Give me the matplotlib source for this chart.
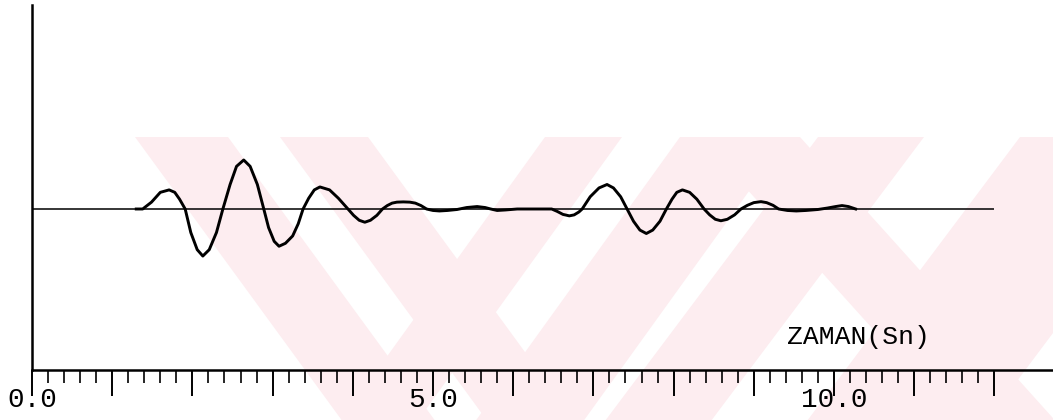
import matplotlib.pyplot as plt
import numpy as np
from matplotlib.patches import Polygon

plt.rcParams['font.family'] = ['Liberation Mono', 'DejaVu Sans Mono']

# record: time (s) and relative amplitude
time = [
    1.30, 1.38, 1.49, 1.60, 1.71, 1.78, 1.84, 1.91, 1.98, 2.06,
    2.13, 2.21, 2.30, 2.38, 2.47, 2.55, 2.64, 2.72, 2.81, 2.89,
    2.95, 3.02, 3.08, 3.16, 3.25, 3.32, 3.38, 3.45, 3.52, 3.59,
    3.71, 3.82, 3.94, 4.01, 4.08, 4.15, 4.22, 4.30, 4.37, 4.43,
    4.49, 4.55, 4.63, 4.71, 4.78, 4.85, 4.92, 5.00, 5.08, 5.18,
    5.30, 5.42, 5.55, 5.65, 5.72, 5.80, 5.90, 6.05, 6.48, 6.55,
    6.62, 6.70, 6.76, 6.82, 6.86, 6.96, 7.07, 7.17, 7.25, 7.34,
    7.42, 7.50, 7.58, 7.66, 7.74, 7.83, 7.91, 7.98, 8.04, 8.11,
    8.20, 8.29, 8.38, 8.45, 8.52, 8.59, 8.67, 8.76, 8.84, 8.92,
    9.00, 9.09, 9.16, 9.24, 9.31, 9.42, 9.53, 9.65, 9.80, 9.92,
    10.02, 10.10, 10.18, 10.27,
]
amplitude = [
    0.00, 0.00, 0.14, 0.34, 0.39, 0.34, 0.20, 0.00, -0.48, -0.83,
    -0.96, -0.83, -0.48, 0.00, 0.50, 0.87, 1.00, 0.87, 0.50, 0.00,
    -0.38, -0.66, -0.76, -0.70, -0.55, -0.30, 0.00, 0.22, 0.39, 0.45,
    0.39, 0.22, 0.00, -0.13, -0.23, -0.27, -0.23, -0.13, 0.00, 0.07,
    0.12, 0.14, 0.145, 0.14, 0.12, 0.07, 0.00, -0.03, -0.04, -0.03,
    -0.01, 0.03, 0.05, 0.03, 0.00, -0.03, -0.02, 0.00, 0.00, -0.05,
    -0.11, -0.14, -0.12, -0.06, 0.00, 0.25, 0.43, 0.50, 0.43, 0.25,
    0.00, -0.25, -0.43, -0.50, -0.43, -0.25, 0.00, 0.20, 0.34, 0.39,
    0.34, 0.20, 0.00, -0.12, -0.21, -0.24, -0.21, -0.12, 0.00, 0.075,
    0.13, 0.15, 0.13, 0.075, 0.00, -0.03, -0.04, -0.03, -0.01, 0.02,
    0.05, 0.07, 0.05, 0.00,
]

major_ticks = np.arange(0, 13, 1.0)
minor_ticks = np.arange(0, 12.01, 0.2)
tick_labels = {0.0: '0.0', 5.0: '5.0', 10.0: '10.0'}
xlabel = 'ZAMAN(Sn)'

W, H = 1053, 420
fig = plt.figure(figsize=(W / 100, H / 100), dpi=100)

# faint pink diagonal bands in the background (pixel coords, y from top)
pink = '#fdedf0'
y_top = 137
bands = [
    (135, 228, 0.73), (280, 368, 0.73),
    (545, 622, -0.72), (680, 788, -0.72),
    (818, 924, -0.75), (1020, 1200, -0.75),
    (700, 800, 0.9),
]
for x0, x1, slope in bands:
    shift = slope * (H - y_top)
    pts = [(x0, H - y_top), (x1, H - y_top), (x1 + shift, 0), (x0 + shift, 0)]
    fig.patches.append(Polygon(pts, closed=True, transform=None, facecolor=pink,
                               edgecolor='none', zorder=-10))

ax = fig.add_axes([32 / W, 50 / H, 1 - 32 / W, 365 / H])
ax.patch.set_alpha(0)

ax.hlines(0, 0, major_ticks[-1], color='black', lw=1.1)
ax.plot(time, amplitude, color='black', lw=2.1, solid_joinstyle='round')

ax.set_xlim(0, (W - 32) / 80.2)
ax.set_ylim(-161 / 49, 204 / 49)

for side in ('top', 'right'):
    ax.spines[side].set_visible(False)
for side in ('left', 'bottom'):
    ax.spines[side].set_linewidth(1.8)
ax.set_yticks([])

ax.set_xticks(major_ticks)
ax.set_xticklabels([tick_labels.get(v, '') for v in major_ticks])
ax.set_xticks(minor_ticks, minor=True)
ax.tick_params(axis='x', which='major', direction='out', length=19, width=1.4,
               pad=-7, labelsize=20)
ax.tick_params(axis='x', which='minor', direction='out', length=9, width=1.2)

fig.text(787 / W, (H - 344) / H, xlabel, fontsize=19, ha='left', va='baseline')

fig.savefig('out.png', dpi=100)
